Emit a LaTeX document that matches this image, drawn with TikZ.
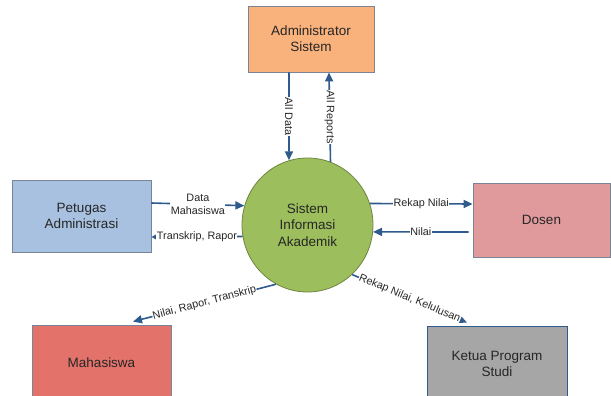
\documentclass[tikz,border=0pt]{standalone}
\usepackage{fontspec}
\setmainfont{Liberation Sans}
\usetikzlibrary{arrows.meta,calc,shapes.geometric}
\definecolor{flowc}{HTML}{2E5A8C}
\definecolor{adminc}{HTML}{F9B27C}
\definecolor{petugasc}{HTML}{A9C1E0}
\definecolor{dosenc}{HTML}{E19A9B}
\definecolor{mhsc}{HTML}{E3736A}
\definecolor{ketuac}{HTML}{A6A6A6}
\definecolor{siac}{HTML}{9DBE5C}
\definecolor{boxline}{HTML}{7A8499}
\tikzset{
  entity/.style={draw=boxline, line width=0.8pt, align=center, inner sep=0pt,
    font=\fontsize{13.5}{16}\selectfont, text=black!85},
  flow/.style={draw=flowc, line width=1.6pt, -{Triangle[length=9pt,width=8pt]}},
  lbl/.style={fill=white, inner sep=0.5pt, align=center, text=black!85,
    font=\fontsize{10.8}{12.5}\selectfont}
}
\begin{document}
\begin{tikzpicture}[x=1pt,y=-1pt]
\useasboundingbox (0,0) rectangle (611,396);
\node[entity, fill=adminc, minimum width=126pt, minimum height=66pt] (admin) at (311,39) {Administrator\\Sistem};
\node[entity, fill=petugasc, minimum width=139pt, minimum height=72pt] (petugas) at (81.5,216) {Petugas\\Administrasi};
\node[entity, fill=dosenc, minimum width=137pt, minimum height=74pt] (dosen) at (541.5,220) {Dosen};
\node[entity, fill=mhsc, minimum width=139pt, minimum height=76pt] (mhs) at (101.5,363) {Mahasiswa};
\node[entity, draw=flowc, fill=ketuac, minimum width=140pt, minimum height=76pt] (ketua) at (497,364) {Ketua Program\\Studi};
\node[ellipse, draw=siac!70!black, line width=0.8pt, fill=siac, minimum width=131pt, minimum height=134pt,
  align=center, inner sep=0pt, font=\fontsize{13.5}{16.5}\selectfont, text=black!85] (sia) at (307.5,225) {Sistem\\Informasi\\Akademik};

\draw[flow] ($(admin.south)+(-22,0)$) -- node[lbl, rotate=-90] {All Data} (sia.106);
\draw[flow] (sia.70.5) -- node[lbl, rotate=-90] {All Reports} ($(admin.south)+(18,0)$);
\draw[flow] ($(petugas.east)+(0,-13)$) -- node[lbl] {Data\\Mahasiswa} (sia.163);
\draw[flow, -{Triangle[length=5pt,width=5pt]}] (sia.190) -- node[lbl] {Transkrip, Rapor} ($(petugas.east)+(0,21)$);
\draw[flow] (sia.19.5) -- node[lbl] {Rekap Nilai} ($(dosen.west)+(0,-16)$);
\draw[flow] ($(dosen.west)+(-4,12)$) -- node[lbl] {Nilai} (sia.-6);
\draw[flow] (sia.242) -- node[lbl, sloped] {Nilai, Rapor, Transkrip} ($(mhs.north)+(31.5,-3)$);
\draw[flow] (sia.-48) -- node[lbl, sloped] {Rekap Nilai, Kelulusan} ($(ketua.north)+(-30,-3)$);
\end{tikzpicture}
\end{document}
